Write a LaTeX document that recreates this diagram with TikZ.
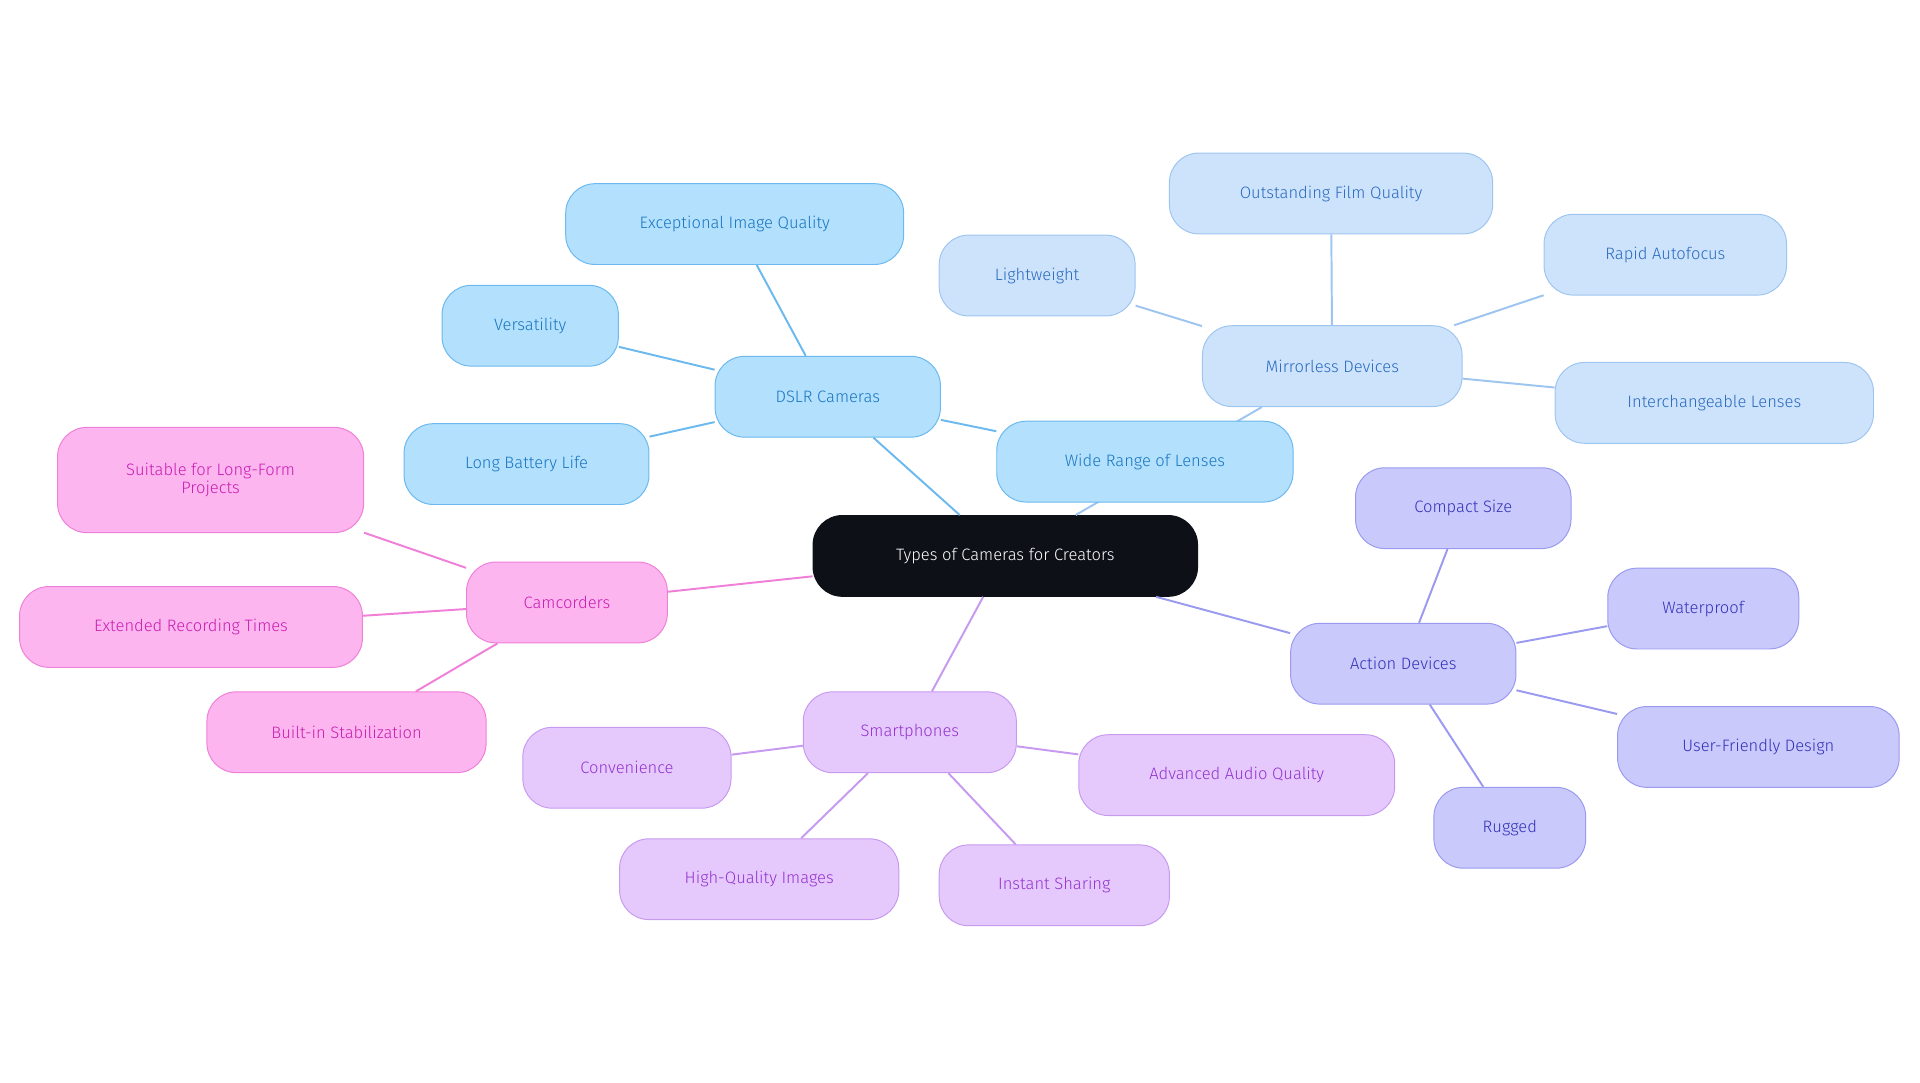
\documentclass[tikz,border=0pt]{standalone}
\usepackage{fontspec}
\setmainfont{Fira Sans}[UprightFont=* Light]
\begin{document}
\begin{tikzpicture}[x=1pt,y=-1pt,
  nd/.style={draw,line width=0.8pt,rounded corners=24pt,minimum height=66pt,align=center,font=\fontsize{13.5}{15}\selectfont,inner sep=0pt},
  db/.style={nd,fill=dfill,draw=dstroke,text=dtext},
  mb/.style={nd,fill=mfill,draw=mstroke,text=mtext},
  ab/.style={nd,fill=afill,draw=astroke,text=atext},
  sb/.style={nd,fill=sfill,draw=sstroke,text=stext},
  cb/.style={nd,fill=cfill,draw=cstroke,text=ctext},
  ed/.style={line width=1.6pt}]
\definecolor{dfill}{HTML}{B3E0FD}\definecolor{dstroke}{HTML}{6BB9EE}\definecolor{dtext}{HTML}{1976C0}
\definecolor{mfill}{HTML}{CCE3FB}\definecolor{mstroke}{HTML}{9EC5F0}\definecolor{mtext}{HTML}{2A6AC0}
\definecolor{afill}{HTML}{C9C9FC}\definecolor{astroke}{HTML}{9A9AF0}\definecolor{atext}{HTML}{3232B8}
\definecolor{sfill}{HTML}{E6C9FC}\definecolor{sstroke}{HTML}{C79AF0}\definecolor{stext}{HTML}{9333D0}
\definecolor{cfill}{HTML}{FDB5F0}\definecolor{cstroke}{HTML}{F07FD8}\definecolor{ctext}{HTML}{C81EB0}
\definecolor{dark}{HTML}{0D1117}
\useasboundingbox (0,0) rectangle (1568,884);
\node[nd,fill=dark,draw=dark,text=white,minimum width=314pt] (c) at (821,454) {Types of Cameras for Creators};
\node[db,minimum width=184pt] (dslr) at (676,324) {DSLR Cameras};
\node[db,minimum width=276pt] (d1) at (600,183) {Exceptional Image Quality};
\node[db,minimum width=144pt] (d2) at (433,266) {Versatility};
\node[db,minimum width=200pt] (d3) at (430,379) {Long Battery Life};
\node[mb,minimum width=212pt] (mir) at (1088,299) {Mirrorless Devices};
\node[mb,minimum width=160pt] (m1) at (847,225) {Lightweight};
\node[mb,minimum width=264pt] (m2) at (1087,158) {Outstanding Film Quality};
\node[mb,minimum width=198pt] (m3) at (1360,208) {Rapid Autofocus};
\node[mb,minimum width=260pt] (m4) at (1400,329) {Interchangeable Lenses};
\begin{scope}[on background layer/.style={}]
\end{scope}
\draw[ed,mstroke] (c) -- (mir);
\node[db,minimum width=242pt] (d4) at (935,377) {Wide Range of Lenses};
\node[ab,minimum width=184pt] (act) at (1146,542) {Action Devices};
\node[ab,minimum width=176pt] (a1) at (1195,415) {Compact Size};
\node[ab,minimum width=156pt] (a2) at (1391,497) {Waterproof};
\node[ab,minimum width=230pt] (a3) at (1436,610) {User-Friendly Design};
\node[ab,minimum width=124pt] (a4) at (1233,676) {Rugged};
\node[sb,minimum width=174pt] (sm) at (743,598) {Smartphones};
\node[sb,minimum width=170pt] (s1) at (512,627) {Convenience};
\node[sb,minimum width=258pt] (s2) at (1010,633) {Advanced Audio Quality};
\node[sb,minimum width=228pt] (s3) at (620,718) {High-Quality Images};
\node[sb,minimum width=188pt] (s4) at (861,723) {Instant Sharing};
\node[cb,minimum width=164pt] (cam) at (463,492) {Camcorders};
\node[cb,minimum width=250pt,minimum height=86pt] (c1) at (172,392) {Suitable for Long-Form\\Projects};
\node[cb,minimum width=280pt] (c2) at (156,512) {Extended Recording Times};
\node[cb,minimum width=228pt] (c3) at (283,598) {Built-in Stabilization};
\begin{scope}[ed]
\draw[dstroke] (c)--(dslr) (dslr)--(d1) (dslr)--(d2) (dslr)--(d3) (dslr)--(d4);
\draw[mstroke] (mir)--(m1) (mir)--(m2) (mir)--(m3) (mir)--(m4);
\draw[astroke] (c)--(act) (act)--(a1) (act)--(a2) (act)--(a3) (act)--(a4);
\draw[sstroke] (c)--(sm) (sm)--(s1) (sm)--(s2) (sm)--(s3) (sm)--(s4);
\draw[cstroke] (c)--(cam) (cam)--(c1) (cam)--(c2) (cam)--(c3);
\end{scope}
\end{tikzpicture}
\end{document}
